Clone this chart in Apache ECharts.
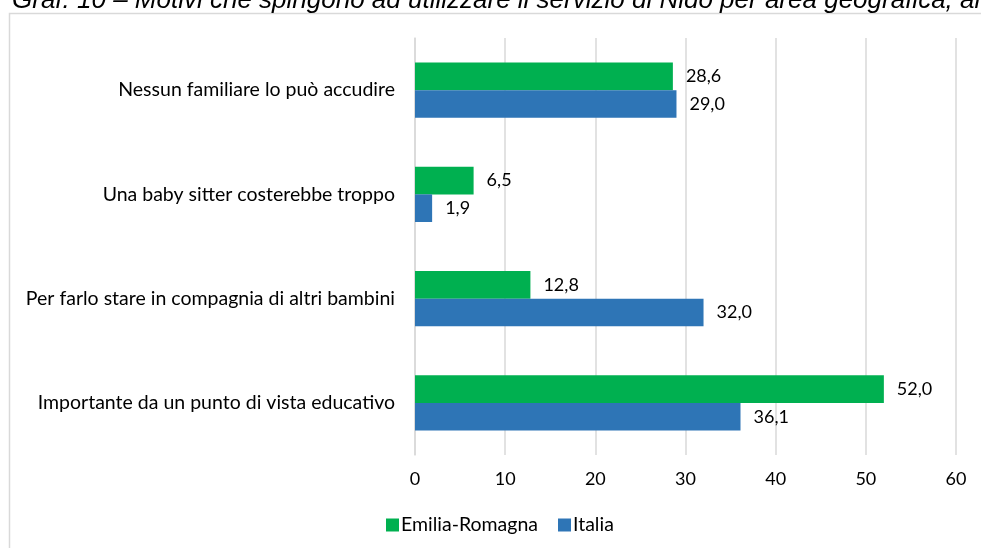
<!DOCTYPE html>
<html>
<head>
<meta charset="utf-8">
<script src="https://cdn.jsdelivr.net/npm/echarts@6/dist/echarts.min.js"></script>
<style>
  html, body { margin: 0; padding: 0; background: #fff; overflow: hidden; }
  #chart { width: 981px; height: 548px; }
</style>
</head>
<body>
<div id="chart"></div>
<script>
// Motivi per l'utilizzo del Nido, Emilia-Romagna vs Italia (%)
const categories = [
  'Nessun familiare lo può accudire',
  'Una baby sitter costerebbe troppo',
  'Per farlo stare in compagnia di altri bambini',
  'Importante da un punto di vista educativo'
];
const emiliaRomagna = [28.6, 6.5, 12.8, 52.0];
const italia = [29.0, 1.9, 32.0, 36.1];
const seriesNames = ['Emilia-Romagna', 'Italia'];
const titleText = 'Graf. 10 – Motivi che spingono ad utilizzare il servizio di Nido per area geografica, anno 2015';

const FONT = 'Lato';
const fmt = v => v.toFixed(1).replace('.', ',');

const valueLabel = {
  show: true, position: 'right', distance: 13,
  fontFamily: FONT, fontSize: 18, color: '#000',
  formatter: p => fmt(p.value)
};

const chart = echarts.init(document.getElementById('chart'));
chart.setOption({
  animation: false,
  backgroundColor: '#fff',
  textStyle: { fontFamily: FONT },
  graphic: [
    {
      // caption sitting above the frame, clipped by the page top edge
      type: 'text', x: 12, y: -12, silent: true,
      style: {
        text: titleText, fill: '#000',
        font: 'italic 26px "Liberation Sans", Arial, sans-serif'
      }
    },
    {
      type: 'rect', silent: true,
      shape: { x: 9.5, y: 13.5, width: 1100, height: 700 },
      style: { fill: '#fff', stroke: '#d9d9d9', lineWidth: 1.5 },
      z: -1
    }
  ],
  grid: { left: 415, right: 25, top: 38, bottom: 93, containLabel: false },
  legend: {
    data: seriesNames,
    bottom: 8, left: 381,
    itemWidth: 13, itemHeight: 13, itemGap: 20,
    icon: 'rect',
    textStyle: { fontFamily: FONT, fontSize: 19.5, color: '#000', padding: [0, 0, 0, -3] }
  },
  xAxis: {
    type: 'value', min: 0, max: 60, interval: 10,
    axisLine: { show: false }, axisTick: { show: false },
    splitLine: { lineStyle: { color: '#d9d9d9', width: 1.5 } },
    axisLabel: { fontFamily: FONT, fontSize: 18, color: '#000', margin: 15 }
  },
  yAxis: {
    type: 'category', data: categories, inverse: true,
    axisLine: { show: true, lineStyle: { color: '#d9d9d9', width: 1.5 } },
    axisTick: { show: false },
    axisLabel: { fontFamily: FONT, fontSize: 19.5, color: '#000', margin: 20 }
  },
  series: [
    {
      name: seriesNames[0], type: 'bar', data: emiliaRomagna,
      itemStyle: { color: '#00B050' },
      barGap: '0%', barCategoryGap: '47%',
      label: valueLabel
    },
    {
      name: seriesNames[1], type: 'bar', data: italia,
      itemStyle: { color: '#2E75B6' },
      barGap: '0%', barCategoryGap: '47%',
      label: valueLabel
    }
  ]
});
</script>
</body>
</html>
